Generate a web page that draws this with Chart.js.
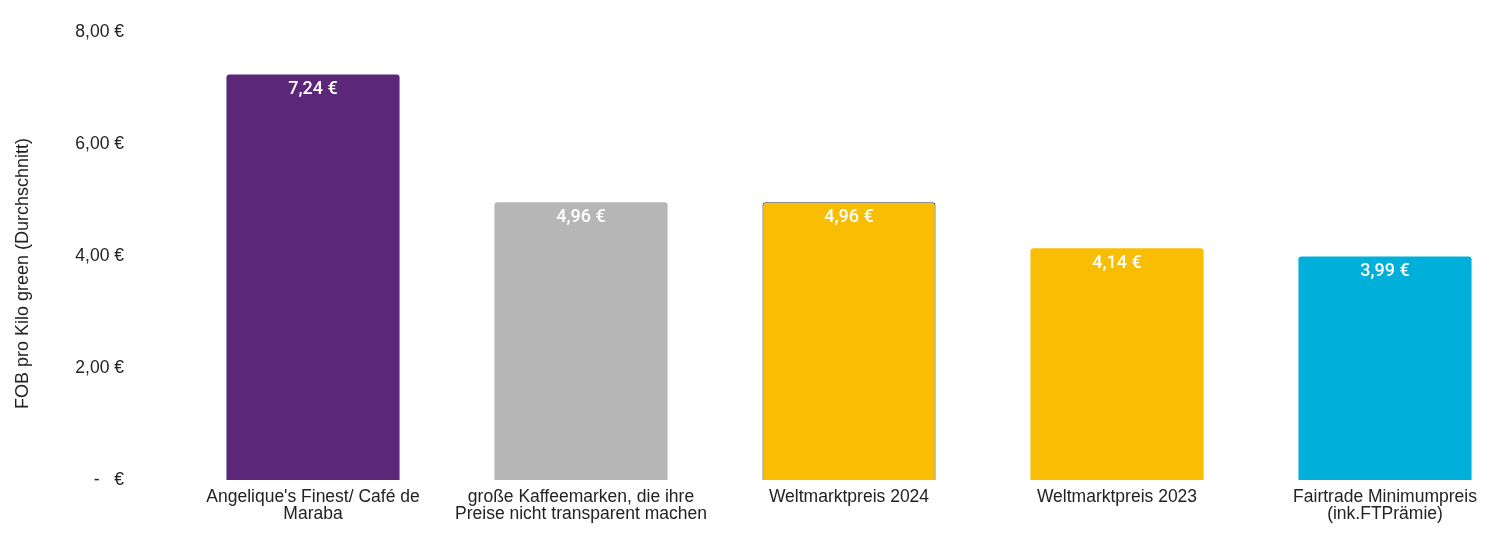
<!DOCTYPE html>
<html>
<head>
<meta charset="utf-8">
<script src="https://cdn.jsdelivr.net/npm/chart.js@4/dist/chart.umd.min.js"></script>
<style>
    html, body { margin: 0; padding: 0; background: #fff; overflow: hidden; }
    #wrap { position: relative; width: 1520px; height: 541px; }
</style>
</head>
<body>
<div id="wrap"><canvas id="barChart"></canvas></div>
<script>
const categories = [
    ["Angelique's Finest/ Café de", "Maraba"],
    ["große Kaffeemarken, die ihre", "Preise nicht transparent machen"],
    ["Weltmarktpreis 2024"],
    ["Weltmarktpreis 2023"],
    ["Fairtrade Minimumpreis", "(ink.FTPrämie)"],
];
const prices = [7.24, 4.96, 4.96, 4.14, 3.99];
const yTicks = [0, 2, 4, 6, 8];
const barColors = ["#5c2779", "#b6b6b6", "#f9be04", "#f9be04", "#00b0da"];
const axisTitle = "FOB pro Kilo green (Durchschnitt)";

function euro(v) {
    if (v === 0) return "-   €";
    return v.toFixed(2).replace(".", ",") + " €";
}

// white value labels inside the top of each bar
const valueLabels = {
    id: "valueLabels",
    afterDatasetsDraw(chart) {
        const ctx = chart.ctx;
        const meta = chart.getDatasetMeta(0);
        ctx.save();
        ctx.fillStyle = "#ffffff";
        ctx.font = "500 18px Roboto";
        ctx.textAlign = "center";
        ctx.textBaseline = "middle";
        meta.data.forEach(function (bar, i) {
            ctx.fillText(euro(prices[i]), bar.x, bar.y + 15);
        });
        ctx.restore();
    },
};

new Chart(document.getElementById("barChart").getContext("2d"), {
    type: "bar",
    data: {
        labels: categories,
        datasets: [
            {
                data: prices,
                backgroundColor: barColors,
                borderColor: ["#5c2779", "#b6b6b6", "#3a3a3a", "#f9be04", "#00b0da"],
                borderWidth: [0, 0, 1, 0, 0],
                borderSkipped: "bottom",
                borderRadius: { topLeft: 3, topRight: 3, bottomLeft: 0, bottomRight: 0 },
                barPercentage: 0.646,
                categoryPercentage: 1,
            },
        ],
    },
    options: {
        responsive: true,
        maintainAspectRatio: false,
        animation: false,
        layout: { padding: { top: 32, right: 1, left: 0, bottom: 0 } },
        plugins: {
            legend: { display: false },
            tooltip: { enabled: false },
        },
        scales: {
            x: {
                grid: { display: false, drawTicks: false },
                border: { display: false },
                ticks: {
                    color: "#222",
                    padding: 8,
                    maxRotation: 0,
                    autoSkip: false,
                    font: { family: "Liberation Sans", size: 17.5, lineHeight: 1.0 },
                },
                afterFit: function (scale) { scale.height = 61; },
            },
            y: {
                min: 0,
                max: 8,
                grid: { display: false, drawTicks: false },
                border: { display: false },
                afterBuildTicks: function (scale) {
                    scale.ticks = yTicks.map(function (v) { return { value: v }; });
                },
                ticks: {
                    color: "#222",
                    padding: 55,
                    font: { family: "Liberation Sans", size: 17.5 },
                    callback: function (v) { return euro(v); },
                },
                title: {
                    display: true,
                    // trailing spaces nudge the rotated title a bit lower, like the original
                    text: axisTitle + "       ",
                    color: "#222",
                    padding: { top: 12, bottom: 0 },
                    font: { family: "Liberation Sans", size: 18 },
                },
                afterFit: function (scale) {
                    scale.width = 179;
                    scale.paddingTop = 10;
                    scale.paddingBottom = 10;
                },
            },
        },
    },
    plugins: [valueLabels],
});
</script>
</body>
</html>
